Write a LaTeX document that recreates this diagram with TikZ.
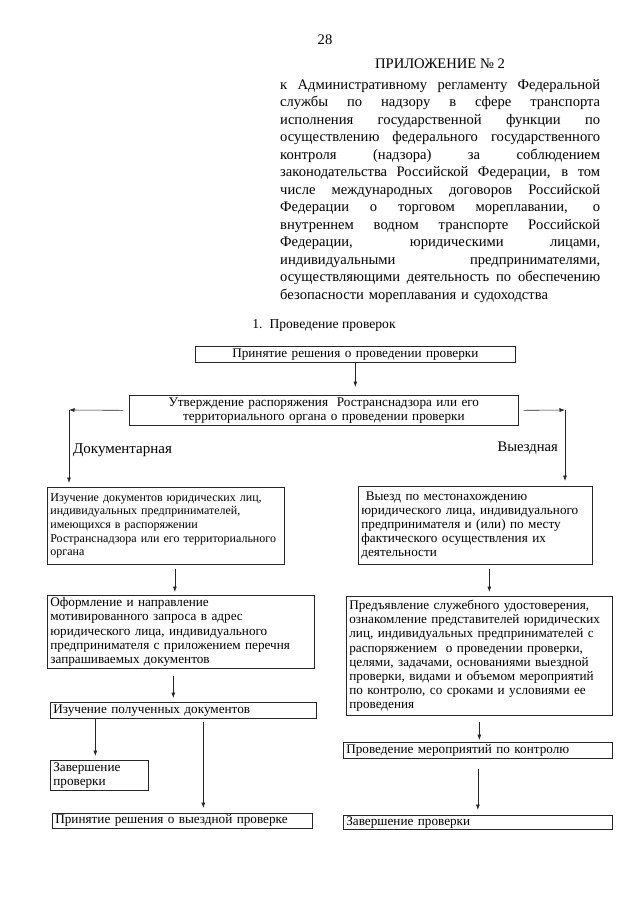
\documentclass[tikz,border=0pt]{standalone}
\usepackage{fontspec}
\setmainfont{Liberation Serif}
\usetikzlibrary{arrows.meta, positioning, calc}
\newcommand{\boxfont}{\fontsize{13.2}{14.2}\selectfont}
\newcommand{\smallboxfont}{\fontsize{12}{13.6}\selectfont}
\newcommand{\headfont}{\fontsize{14.6}{17.5}\selectfont}
\newcommand{\jline}[1]{\leavevmode\hbox to 320pt{\spaceskip=0.25em plus 1fil\relax #1}}
\tikzset{
  box/.style={draw=black!85, line width=0.7pt, anchor=north west,
              align=left, font=\boxfont, inner xsep=3pt, inner ysep=1pt},
  cbox/.style={box, align=center},
  arr/.style={-{Latex[length=5.5pt,width=4pt]}, line width=0.6pt, black!85},
  lbl/.style={font=\headfont, inner sep=0pt},
}
\begin{document}
\begin{tikzpicture}[x=1pt, y=-1pt]
    \useasboundingbox (0,0) rectangle (640,905);
    % header
    \node[lbl] (page) at (325,40) {28};
    \node[lbl] (appx) at (440,64) {ПРИЛОЖЕНИЕ № 2};
    \node[lbl, anchor=north west, align=left, text width=320pt] (intro) at (280,79) {%
      \jline{к Административному регламенту Федеральной}\\
      \jline{службы по надзору в сфере транспорта}\\
      \jline{исполнения государственной функции по}\\
      \jline{осуществлению федерального государственного}\\
      \jline{контроля (надзора) за соблюдением}\\
      \jline{законодательства Российской Федерации, в том}\\
      \jline{числе международных договоров Российской}\\
      \jline{Федерации о торговом мореплавании, о}\\
      \jline{внутреннем водном транспорте Российской}\\
      \jline{Федерации, юридическими лицами,}\\
      \jline{индивидуальными предпринимателями,}\\
      \jline{осуществляющими деятельность по обеспечению}\\
      безопасности мореплавания и судоходства};
    \node[lbl, font=\fontsize{13.6}{16}\selectfont] (title) at (324,325) {1.\hspace{7pt}Проведение проверок};

    % top of the chart
    \node[cbox, text width=314pt, minimum height=16pt] (b1) at (195,346) {Принятие решения о проведении проверки};
    \node[cbox, text width=383pt, minimum height=30pt] (b2) at (129,395) {Утверждение распоряжения\ \ Ространснадзора или его\\территориального органа о проведении проверки};
    \coordinate (lc) at (69,410);
    \coordinate (rc) at (565,410);
    \node[lbl, anchor=west, font=\fontsize{15}{17}\selectfont] (doc) at (73,450) {Документарная};
    \node[lbl, anchor=east] (vyezd) at (558,448) {Выездная};

    % left branch
    \node[box, font=\smallboxfont, text width=231pt, minimum height=77pt] (a1) at (47,487) {Изучение документов юридических лиц,\\индивидуальных предпринимателей,\\имеющихся в распоряжении\\Ространснадзора или его территориального\\органа};
    \node[box, text width=261pt, minimum height=73pt] (a2) at (47,595) {Оформление и направление\\мотивированного запроса в адрес\\юридического лица, индивидуального\\предпринимателя с приложением перечня\\запрашиваемых документов};
    \node[box, text width=260pt, minimum height=16pt] (a3) at (50,702) {Изучение полученных документов};
    \node[box, text width=92pt, minimum height=30pt] (a4) at (50,760) {Завершение\\проверки};
    \node[box, text width=254pt, minimum height=15pt] (a5) at (52,813) {Принятие решения о выездной проверке};

    % right branch
    \node[box, text width=228pt, minimum height=78pt] (v1) at (358,486) {\ Выезд по местонахождению\\юридического лица, индивидуального\\предпринимателя и (или) по месту\\фактического осуществления их\\деятельности};
    \node[box, text width=260pt, minimum height=119pt] (v2) at (346,596) {Предъявление служебного удостоверения,\\ознакомление представителей юридических\\лиц, индивидуальных предпринимателей с\\распоряжением\ \ о проведении проверки,\\целями, задачами, основаниями выездной\\проверки, видами и объемом мероприятий\\по контролю, со сроками и условиями ее\\проведения};
    \node[box, text width=263pt, minimum height=16pt] (v3) at (343,742) {Проведение мероприятий по контролю};
    \node[box, text width=263pt, minimum height=14pt] (v4) at (343,815) {Завершение проверки};

    \draw[arr, shorten >=8pt] (b1.south) -- (b1.south |- b2.north);
    \draw[arr, shorten <=6pt] (b2.west) -- (lc);
    \draw[arr, shorten >=4pt] (lc) -- (lc |- a1.north);
    \draw[arr, shorten <=5pt] (b2.east) -- (rc);
    \draw[arr, shorten >=5pt] (rc) -- (rc |- v1.north);

    \draw[arr, shorten <=4pt, shorten >=3pt] ([xshift=9pt]a1.south) -- ([xshift=9pt]a1.south |- a2.north);
    \draw[arr, shorten <=7pt, shorten >=4pt] ([xshift=-7.5pt]a2.south) -- ([xshift=-7.5pt]a2.south |- a3.north);
    \draw[arr, shorten >=4pt] ([xshift=-4pt]a4.north |- a3.south) -- ([xshift=-4pt]a4.north);
    \draw[arr, shorten <=3pt, shorten >=5pt] ([xshift=21pt]a5.north |- a3.south) -- ([xshift=21pt]a5.north);

    \draw[arr, shorten <=4pt, shorten >=4pt] ([xshift=14pt]v1.south) -- ([xshift=14pt]v1.south |- v2.north);
    \draw[arr, shorten <=6pt, shorten >=2pt] (v2.south) -- (v2.south |- v3.north);
    \draw[arr, shorten <=10pt, shorten >=5pt] (v3.south) -- (v3.south |- v4.north);
\end{tikzpicture}
\end{document}
